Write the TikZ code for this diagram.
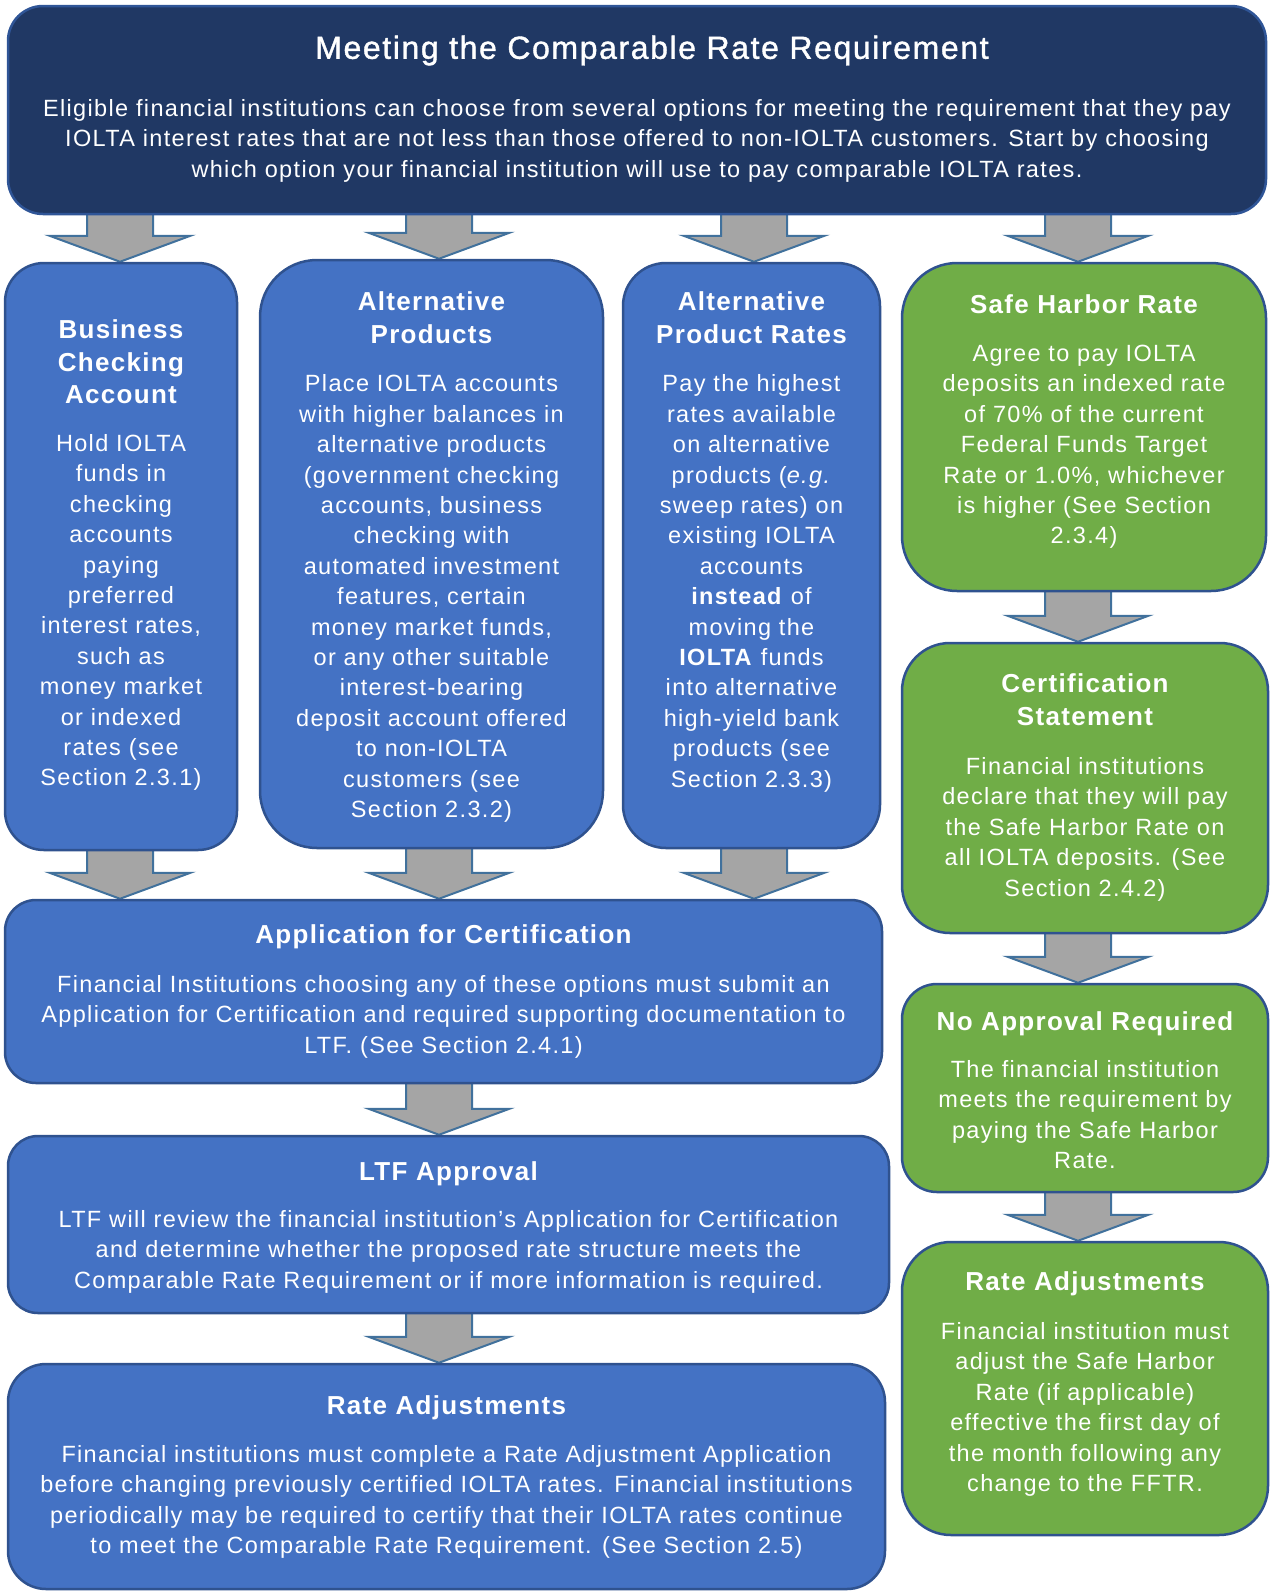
\documentclass[tikz,border=0pt]{standalone}
\usepackage{fontspec}
\setmainfont{Liberation Sans}[LetterSpace=5]
\newfontfamily\bodyfam{Liberation Sans}[LetterSpace=5.7]
\newfontfamily\titlefam{Liberation Sans}[LetterSpace=5,FakeBold=1.2]
\usetikzlibrary{calc}
\pgfdeclarelayer{bg}
\pgfsetlayers{bg,main}
\definecolor{navy}{HTML}{203864}
\definecolor{navyline}{HTML}{2F5597}
\definecolor{boxblue}{HTML}{4472C4}
\definecolor{boxline}{HTML}{2F528F}
\definecolor{boxgreen}{HTML}{70AD47}
\definecolor{arrfill}{HTML}{A5A5A5}
\definecolor{arrline}{HTML}{41719C}
\newcommand\bodyfont{\bodyfam\fontsize{23.5}{30.4}\selectfont}
\newcommand\headfont{\fontsize{26}{32.5}\selectfont\bfseries}
\newcommand\titlefont{\titlefam\fontsize{32}{38}\selectfont}
\tikzset{
  basebox/.style={draw, line width=2.5pt, rectangle, inner sep=0pt},
  navybox/.style={basebox, fill=navy, draw=navyline},
  bluebox/.style={basebox, fill=boxblue, draw=boxline},
  greenbox/.style={basebox, fill=boxgreen, draw=boxline},
  txt/.style={text=white, align=center, inner sep=0pt, anchor=north},
  headtxt/.style={txt, font=\headfont},
  bodytxt/.style={txt, font=\bodyfont},
  blockarr/.style={fill=arrfill, draw=arrline, line width=2pt, line join=miter},
}
\newcommand\blockarrow[3]{%
  \begin{pgfonlayer}{bg}
  \draw[blockarr] let \p1=(#1.south -| #3,0), \p2=(#2.north -| #3,0) in
    (\x2-33pt,\y1+3pt) -- (\x2+33pt,\y1+3pt) -- (\x2+33pt,\y2+26pt) --
    (\x2+70.5pt,\y2+26pt) -- (\x2,\y2) -- (\x2-70.5pt,\y2+26pt) --
    (\x2-33pt,\y2+26pt) -- cycle;
  \end{pgfonlayer}}
\begin{document}
\begin{tikzpicture}[x=1pt,y=-1pt]
\useasboundingbox (0,0) rectangle (1270,1591);
% boxes
\node[navybox, minimum width=1258pt, minimum height=208pt, rounded corners=35pt] (top) at (637,110) {};
\node[bluebox, minimum width=232pt, minimum height=587pt, rounded corners=39pt] (bc) at (121,556.5) {};
\node[bluebox, minimum width=343pt, minimum height=588pt, rounded corners=57pt] (ap) at (431.5,554) {};
\node[bluebox, minimum width=257pt, minimum height=585pt, rounded corners=43pt] (ar) at (751.5,555.5) {};
\node[greenbox, minimum width=364pt, minimum height=328pt, rounded corners=55pt] (sh) at (1084,427) {};
\node[greenbox, minimum width=366pt, minimum height=290pt, rounded corners=48pt] (cs) at (1085,788) {};
\node[greenbox, minimum width=366pt, minimum height=208pt, rounded corners=35pt] (na) at (1085,1088) {};
\node[greenbox, minimum width=366pt, minimum height=293pt, rounded corners=49pt] (rr) at (1085,1388.5) {};
\node[bluebox, minimum width=877pt, minimum height=183pt, rounded corners=31pt] (app) at (443.5,991.5) {};
\node[bluebox, minimum width=881pt, minimum height=177pt, rounded corners=30pt] (ltf) at (448.5,1224.5) {};
\node[bluebox, minimum width=877pt, minimum height=225pt, rounded corners=38pt] (rb) at (446.5,1476.5) {};
% arrows
\blockarrow{top}{bc}{120}
\blockarrow{top}{ap}{439}
\blockarrow{top}{ar}{754}
\blockarrow{top}{sh}{1078}
\blockarrow{bc}{app}{120}
\blockarrow{ap}{app}{439}
\blockarrow{ar}{app}{754}
\blockarrow{app}{ltf}{439}
\blockarrow{ltf}{rb}{439}
\blockarrow{sh}{cs}{1078}
\blockarrow{cs}{na}{1078}
\blockarrow{na}{rr}{1078}
% texts
\node[txt, font=\titlefont] (t-top-h) at (652,32) {\strut Meeting the Comparable Rate Requirement};
\node[bodytxt] (t-top-b) at (637,95) {\strut Eligible financial institutions can choose from several options for meeting the requirement that they pay\\
IOLTA interest rates that are not less than those offered to non-IOLTA customers. Start by choosing\\
which option your financial institution will use to pay comparable IOLTA rates.};

\node[headtxt] (t-bc-h) at (121,316) {\strut Business\\Checking\\Account};
\node[bodytxt] (t-bc-b) at (121,430) {\strut Hold IOLTA\\funds in\\checking\\accounts\\paying\\preferred\\interest rates,\\such as\\money market\\or indexed\\rates (see\\Section 2.3.1)};

\node[headtxt] (t-ap-h) at (431.5,288) {\strut Alternative\\Products};
\node[bodytxt] (t-ap-b) at (431.5,370.5) {\strut Place IOLTA accounts\\with higher balances in\\alternative products\\(government checking\\accounts, business\\checking with\\automated investment\\features, certain\\money market funds,\\or any other suitable\\interest-bearing\\deposit account offered\\to non-IOLTA\\customers (see\\Section 2.3.2)};

\node[headtxt] (t-ar-h) at (751.5,288) {\strut Alternative\\Product Rates};
\node[bodytxt] (t-ar-b) at (751.5,370.5) {\strut Pay the highest\\rates available\\on alternative\\products (\textit{e.g.}\\sweep rates) on\\existing IOLTA\\accounts\\\textbf{instead} of\\moving the\\\textbf{IOLTA} funds\\into alternative\\high-yield bank\\products (see\\Section 2.3.3)};

\node[headtxt] (t-sh-h) at (1084,291) {\strut Safe Harbor Rate};
\node[bodytxt] (t-sh-b) at (1084,340) {\strut Agree to pay IOLTA\\deposits an indexed rate\\of 70\% of the current\\Federal Funds Target\\Rate or 1.0\%, whichever\\is higher (See Section\\2.3.4)};

\node[headtxt] (t-cs-h) at (1085,670) {\strut Certification\\Statement};
\node[bodytxt] (t-cs-b) at (1085,753) {\strut Financial institutions\\declare that they will pay\\the Safe Harbor Rate on\\all IOLTA deposits. (See\\Section 2.4.2)};

\node[headtxt] (t-na-h) at (1085,1008) {\strut No Approval Required};
\node[bodytxt] (t-na-b) at (1085,1056) {\strut The financial institution\\meets the requirement by\\paying the Safe Harbor\\Rate.};

\node[headtxt] (t-rr-h) at (1085,1268) {\strut Rate Adjustments};
\node[bodytxt] (t-rr-b) at (1085,1318) {\strut Financial institution must\\adjust the Safe Harbor\\Rate (if applicable)\\effective the first day of\\the month following any\\change to the FFTR.};

\node[headtxt] (t-app-h) at (443.5,921) {\strut Application for Certification};
\node[bodytxt] (t-app-b) at (443.5,971) {\strut Financial Institutions choosing any of these options must submit an\\Application for Certification and required supporting documentation to\\LTF. (See Section 2.4.1)};

\node[headtxt] (t-ltf-h) at (448.5,1158) {\strut LTF Approval};
\node[bodytxt] (t-ltf-b) at (448.5,1206) {\strut LTF will review the financial institution’s Application for Certification\\and determine whether the proposed rate structure meets the\\Comparable Rate Requirement or if more information is required.};

\node[headtxt] (t-rb-h) at (446.5,1392) {\strut Rate Adjustments};
\node[bodytxt] (t-rb-b) at (446.5,1441) {\strut Financial institutions must complete a Rate Adjustment Application\\before changing previously certified IOLTA rates. Financial institutions\\periodically may be required to certify that their IOLTA rates continue\\to meet the Comparable Rate Requirement. (See Section 2.5)};
\end{tikzpicture}
\end{document}
